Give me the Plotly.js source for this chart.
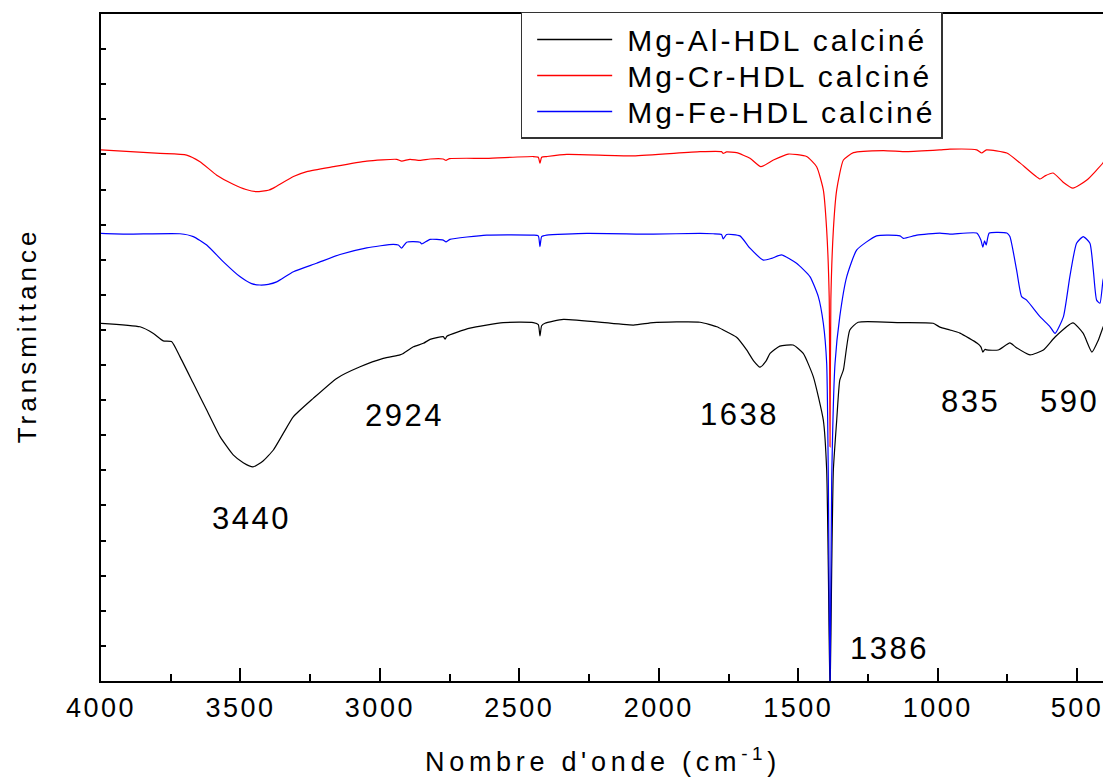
<!DOCTYPE html>
<html>
<head>
<meta charset="utf-8">
<script src="https://cdn.plot.ly/plotly-3.0.1.min.js"></script>
<style>
html, body { margin: 0; padding: 0; overflow: hidden; background: #fff; }
#chart { width: 1110px; height: 783px; }
.xtick text { letter-spacing: 2.5px; }
.xtitle { letter-spacing: 4.7px; }
.ytitle { letter-spacing: 4px; }
.legendtext { letter-spacing: 3px; }
.annotation-text { letter-spacing: 2.5px; }
</style>
</head>
<body>
<div id="chart"></div>
<script>
// Series names and colours
const seriesNames = ["Mg-Al-HDL calciné", "Mg-Cr-HDL calciné", "Mg-Fe-HDL calciné"];
const seriesColors = ["#000000", "#ff0000", "#0000ff"];

// Mg-Al-HDL calciné (black)
const alWn = [4000,3860,3812,3777,3747,3717,3669,3621,3573,3526,3490,3455,3420,3382,3346,3310,3239,3155,3071,2988,2928,2916,2880,2844,2820,2773,2766,2760,2677,2558,2450,2432,2426,2420,2408,2342,2091,2020,1852,1792,1769,1721,1685,1660,1637,1615,1601,1566,1518,1482,1446,1410,1398,1392,1386,1380,1374,1362,1351,1338,1315,1285,1135,1016,992,956,920,858,845,838,830,824,783,741,720,669,621,579,515,478,447,424,407,400];
const alT  = [10.19,10.09,9.90,9.69,9.67,9.24,8.48,7.72,6.96,6.44,6.22,6.10,6.26,6.58,7.06,7.53,8.05,8.62,8.95,9.19,9.29,9.33,9.52,9.62,9.73,9.81,9.74,9.82,10.05,10.21,10.21,10.15,9.83,10.12,10.19,10.30,10.14,10.21,10.22,10.09,10.00,9.79,9.43,9.12,8.94,9.12,9.33,9.54,9.57,9.33,8.67,7.43,6.01,3.16,-0.5,3.16,6.01,7.43,8.57,8.86,10.00,10.22,10.21,10.19,10.08,10.00,9.91,9.62,9.52,9.37,9.45,9.43,9.43,9.63,9.51,9.29,9.43,9.80,10.20,9.90,9.37,9.71,10.08,10.20];

// Mg-Cr-HDL calciné (red)
const crWn = [4000,3788,3693,3645,3585,3526,3480,3442,3400,3382,3310,3262,3167,3047,2940,2922,2892,2856,2820,2773,2763,2750,2617,2450,2432,2426,2420,2402,2330,2091,1852,1775,1769,1757,1721,1673,1634,1589,1536,1470,1434,1410,1398,1389,1386,1383,1374,1362,1338,1302,1195,1111,992,956,860,842,825,752,705,633,615,586,550,515,465,407,400];
const crT  = [15.13,15.03,14.98,14.79,14.41,14.15,14.00,13.94,13.98,14.04,14.37,14.51,14.65,14.81,14.86,14.81,14.86,14.83,14.87,14.87,14.83,14.88,14.89,14.94,14.92,14.75,14.92,14.94,15.00,14.96,15.08,15.08,15.03,15.07,15.05,14.89,14.65,14.84,15.01,14.94,14.65,13.99,12.85,10.95,6.67,10.85,12.85,13.99,14.84,15.05,15.11,15.08,15.13,15.15,15.13,15.04,15.13,15.04,14.76,14.30,14.39,14.47,14.21,14.04,14.27,14.76,14.85];

// Mg-Fe-HDL calciné (blue)
const feWn = [4000,3908,3717,3669,3621,3561,3502,3460,3430,3400,3370,3310,3227,3143,3047,2952,2934,2922,2904,2856,2850,2820,2773,2763,2749,2617,2450,2432,2426,2420,2402,2258,2020,1852,1805,1775,1769,1757,1709,1673,1625,1595,1560,1506,1458,1428,1410,1398,1392,1386,1380,1368,1351,1326,1290,1219,1135,1123,1075,992,956,860,845,838,832,826,815,752,741,717,699,681,633,597,579,549,526,502,478,454,442,430,418,407,400];
const feT  = [12.75,12.73,12.74,12.66,12.42,11.94,11.52,11.32,11.28,11.30,11.37,11.66,11.90,12.15,12.34,12.44,12.42,12.33,12.50,12.50,12.45,12.58,12.56,12.51,12.58,12.70,12.70,12.68,12.37,12.66,12.70,12.75,12.73,12.75,12.74,12.72,12.59,12.72,12.68,12.33,11.99,12.04,12.14,11.90,11.52,10.95,10.19,9.05,5.73,-0.3,5.73,9.05,10.38,11.52,12.28,12.68,12.68,12.61,12.70,12.76,12.73,12.76,12.56,12.36,12.54,12.42,12.76,12.76,12.66,11.71,10.95,10.85,10.38,10.09,9.90,10.38,11.52,12.47,12.66,12.47,11.71,10.85,10.76,11.42,11.60];

// Peak labels
const peakLabels = ["3440", "2924", "1638", "835", "590", "1386"];

const FONT = "Liberation Sans, Arial, Helvetica, sans-serif";

const lineStyle = (c) => ({color: c, width: 1.2, shape: "spline", smoothing: 0.5});
const traces = [
  {x: alWn, y: alT, name: seriesNames[0], type: "scatter", mode: "lines", line: lineStyle(seriesColors[0])},
  {x: crWn, y: crT, name: seriesNames[1], type: "scatter", mode: "lines", line: lineStyle(seriesColors[1])},
  {x: feWn, y: feT, name: seriesNames[2], type: "scatter", mode: "lines", line: lineStyle(seriesColors[2])}
];

// label anchor positions (wavenumber, transmittance units)
const labelPos = [[3459, 4.64], [2910, 7.55], [1709, 7.58], [884, 7.95], [526, 7.95], [1171, 0.94]];

const annotations = peakLabels.map((t, i) => ({
  x: labelPos[i][0], y: labelPos[i][1], xref: "x", yref: "y",
  text: t, showarrow: false, font: {family: FONT, size: 31, color: "#000"}
}));

const layout = {
  width: 1110, height: 783,
  margin: {l: 101, r: 5, t: 14, b: 102},
  paper_bgcolor: "#fff", plot_bgcolor: "#fff",
  font: {family: FONT, color: "#000"},
  showlegend: true,
  legend: {
    x: 0.418, y: 1.003, xanchor: "left", yanchor: "top",
    font: {family: FONT, size: 30, color: "#000"},
    bordercolor: "#333", borderwidth: 1.5, bgcolor: "#fff",
    tracegroupgap: 0, itemwidth: 95, traceorder: "normal"
  },
  xaxis: {
    range: [4000, 400], autorange: false,
    tickmode: "array", tickvals: [4000,3500,3000,2500,2000,1500,1000,500],
    ticktext: ["4000","3500","3000","2500","2000","1500","1000","500"],
    ticks: "inside", ticklen: 13, tickwidth: 2, tickcolor: "#000",
    minor: {tickmode: "array", tickvals: [3750,3250,2750,2250,1750,1250,750], ticks: "inside", ticklen: 7, tickwidth: 2, tickcolor: "#000"},
    showline: true, linewidth: 2, linecolor: "#000", mirror: true,
    showgrid: false, zeroline: false,
    tickfont: {family: FONT, size: 27, color: "#000"},
    ticklabelstandoff: 2,
    title: {text: "Nombre d'onde (cm<sup>-1</sup>)", font: {family: FONT, size: 27, color: "#000"}, standoff: 30}
  },
  yaxis: {
    range: [0, 19], autorange: false,
    tick0: 0, dtick: 1,
    ticks: "inside", ticklen: 5, tickwidth: 2, tickcolor: "#000",
    showticklabels: false,
    showline: true, linewidth: 2, linecolor: "#000", mirror: true,
    showgrid: false, zeroline: false,
    title: {text: "Transmittance", font: {family: FONT, size: 26, color: "#000"}, standoff: 55}
  },
  annotations: annotations
};

Plotly.newPlot("chart", traces, layout, {staticPlot: true, displayModeBar: false}).then(function (gd) {
  // nudge the rotated y title slightly upward along its own baseline, as in the reference
  const yt = gd.querySelector(".ytitle");
  if (yt) yt.setAttribute("dx", "12");

  // tighten legend rows and lengthen the line samples to match the reference legend
  const leg = gd.querySelector(".legend");
  if (!leg) return;
  const items = Array.from(leg.querySelectorAll(".traces"));
  const parse = (g) => {
    const m = /translate\(\s*([-\d.]+)[ ,]+([-\d.]+)\s*\)/.exec(g.getAttribute("transform") || "");
    return m ? [parseFloat(m[1]), parseFloat(m[2])] : [0, 0];
  };
  const withName = items.map(g => {
    const t = g.querySelector(".legendtext");
    const name = t ? t.textContent : "";
    return {g: g, idx: seriesNames.indexOf(name), pos: parse(g)};
  });
  const ys = withName.map(o => o.pos[1]).sort((a, b) => a - b);
  if (withName.length > 1) {
    const y0 = ys[0];
    const orig = ys[1] - ys[0];
    const spacing = 36;
    withName.forEach(o => {
      const row = o.idx >= 0 ? o.idx : 0;
      o.g.setAttribute("transform", "translate(" + o.pos[0] + "," + (y0 + row * spacing) + ")");
    });
    const bg = leg.querySelector("rect.bg");
    if (bg) {
      const h = parseFloat(bg.getAttribute("height"));
      bg.setAttribute("height", h - (orig - spacing) * (withName.length - 1));
    }
  }
  withName.forEach(o => {
    const col = o.idx >= 0 ? seriesColors[o.idx] : "#000";
    o.g.querySelectorAll(".legendlines path").forEach(function (p) {
      p.setAttribute("d", "M15,0h75");
      p.style.stroke = col;
      p.style.strokeWidth = "1.3px";
    });
  });
});
</script>
</body>
</html>
